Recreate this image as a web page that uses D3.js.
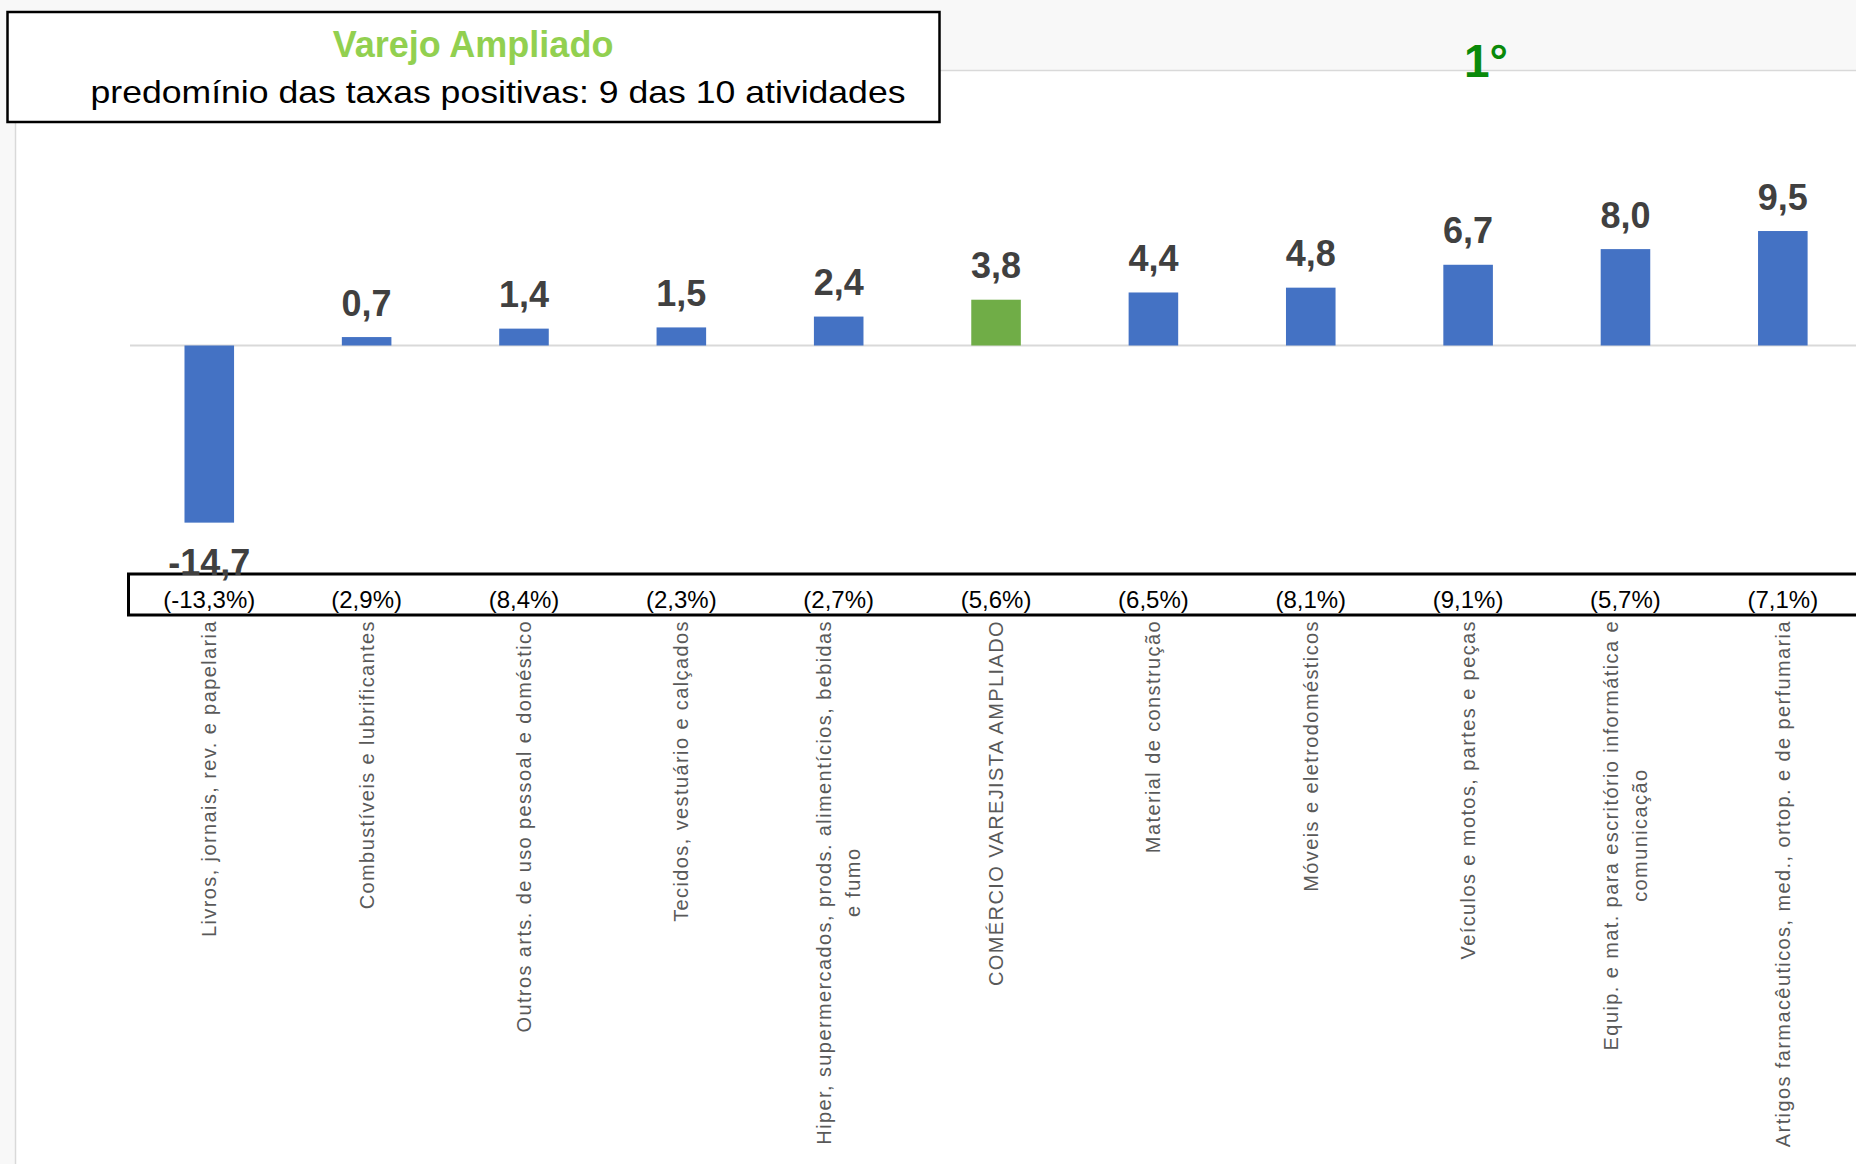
<!DOCTYPE html>
<html>
<head>
<meta charset="utf-8">
<script src="https://cdn.jsdelivr.net/npm/d3@7"></script>
<style>
  html, body { margin: 0; padding: 0; background: #f8f8f8; }
  svg { display: block; }
  .cat { white-space: pre; }
</style>
</head>
<body>
<svg width="1856" height="1164"></svg>
<script>
// categories, in the order of the chart (line breaks marked with |)
var categories = [
    "Livros, jornais, rev. e papelaria",
    "Combustíveis e lubrificantes",
    "Outros arts. de uso pessoal e doméstico",
    "Tecidos, vestuário e calçados",
    "Hiper, supermercados, prods.  alimentícios, bebidas|e fumo",
    "COMÉRCIO VAREJISTA AMPLIADO",
    "Material de construção",
    "Móveis e eletrodomésticos",
    "Veículos e motos, partes e peças",
    "Equip. e mat. para escritório informática e|comunicação",
    "Artigos farmacêuticos, med., ortop. e de perfumaria"
];

// main series (%)
var values = [-14.7, 0.7, 1.4, 1.5, 2.4, 3.8, 4.4, 4.8, 6.7, 8.0, 9.5];

// values shown in brackets under the bars (%)
var previous = [-13.3, 2.9, 8.4, 2.3, 2.7, 5.6, 6.5, 8.1, 9.1, 5.7, 7.1];

var highlight = "COMÉRCIO VAREJISTA AMPLIADO";

var title = "Varejo Ampliado",
    subtitle = "predomínio das taxas positivas: 9 das 10 atividades",
    rank = "1°";

var data = categories.map(function(c, i) {
    return { name: c, value: values[i], prev: previous[i] };
});

// 1 decimal, comma as separator, plain hyphen for negatives
var fmt = function(v) { return d3.format(".1f")(v).replace(".", ",").replace("\u2212", "-"); };

var svg = d3.select("svg");

// chart area (white) over the grey sheet
svg.append("rect")
    .attr("x", 15.5).attr("y", 70.5)
    .attr("width", 1900).attr("height", 1200)
    .attr("fill", "#fff")
    .attr("stroke", "#d9d9d9")
    .attr("stroke-width", 1.5);

var x = d3.scaleBand()
    .domain(categories)
    .range([130.6, 1861.5])
    .paddingInner(0.685)
    .paddingOuter(0.3425);

var y = d3.scaleLinear()
    .domain([-16, 10])
    .range([538.3, 225]);

// zero line
svg.append("line")
    .attr("x1", 130).attr("x2", 1856)
    .attr("y1", y(0)).attr("y2", y(0))
    .attr("stroke", "#d9d9d9")
    .attr("stroke-width", 2);

svg.selectAll("rect.bar")
    .data(data)
    .enter().append("rect")
    .attr("class", "bar")
    .attr("x", function(d) { return x(d.name); })
    .attr("width", x.bandwidth())
    .attr("y", function(d) { return y(Math.max(0, d.value)); })
    .attr("height", function(d) { return Math.abs(y(d.value) - y(0)); })
    .attr("fill", function(d) { return d.name === highlight ? "#70ad47" : "#4472c4"; });

// box with the bracketed values
svg.append("rect")
    .attr("x", 128.5).attr("y", 574)
    .attr("width", 1800).attr("height", 41)
    .attr("fill", "none")
    .attr("stroke", "#000")
    .attr("stroke-width", 3);

svg.selectAll("text.prev")
    .data(data)
    .enter().append("text")
    .attr("class", "prev")
    .attr("x", function(d) { return x(d.name) + x.bandwidth() / 2; })
    .attr("y", 608)
    .attr("text-anchor", "middle")
    .style("font", "24px 'Liberation Sans', Arial, sans-serif")
    .attr("fill", "#000")
    .text(function(d) { return "(" + fmt(d.prev) + "%)"; });

// value labels
svg.selectAll("text.val")
    .data(data)
    .enter().append("text")
    .attr("class", "val")
    .attr("x", function(d) { return x(d.name) + x.bandwidth() / 2; })
    .attr("y", function(d) { return d.value >= 0 ? y(d.value) - 21.5 : y(d.value) + 52.5; })
    .attr("text-anchor", "middle")
    .style("font", "bold 36px 'Liberation Sans', Arial, sans-serif")
    .attr("fill", "#404040")
    .text(function(d) { return fmt(d.value); });

// category labels, rotated, hanging from under the box
var cat = svg.selectAll("g.cat")
    .data(data)
    .enter().append("g")
    .attr("class", "cat")
    .attr("transform", function(d) {
        return "translate(" + (x(d.name) + x.bandwidth() / 2) + ",620) rotate(-90)";
    });

var lineH = 29;
cat.each(function(d) {
    var g = d3.select(this),
        lines = d.name.split("|");
    var t = g.selectAll("text")
        .data(lines)
        .enter().append("text")
        .attr("y", function(l, i) { return (i - (lines.length - 1) / 2) * lineH; })
        .attr("dy", "0.35em")
        .style("font", "20px 'Liberation Sans', Arial, sans-serif")
        .style("letter-spacing", "1.4px")
        .attr("fill", "#595959")
        .text(function(l) { return l; });
    var maxLen = d3.max(t.nodes(), function(n) { return n.getComputedTextLength(); });
    t.attr("text-anchor", "middle").attr("x", -maxLen / 2);
});

// title box
svg.append("rect")
    .attr("x", 7.5).attr("y", 12)
    .attr("width", 932).attr("height", 110)
    .attr("fill", "#fff")
    .attr("stroke", "#000")
    .attr("stroke-width", 2.5);

svg.append("text")
    .attr("x", 473).attr("y", 57)
    .attr("text-anchor", "middle")
    .style("font", "bold 36px 'Liberation Sans', Arial, sans-serif")
    .attr("fill", "#92d050")
    .text(title);

svg.append("text")
    .attr("x", 90.5).attr("y", 103)
    .attr("textLength", 815)
    .attr("lengthAdjust", "spacingAndGlyphs")
    .style("font", "32px 'Liberation Sans', Arial, sans-serif")
    .attr("fill", "#000")
    .text(subtitle);

svg.append("text")
    .attr("x", 1486).attr("y", 77)
    .attr("text-anchor", "middle")
    .style("font", "bold 46px 'Liberation Sans', Arial, sans-serif")
    .attr("fill", "#0a8a0a")
    .text(rank);
</script>
</body>
</html>
